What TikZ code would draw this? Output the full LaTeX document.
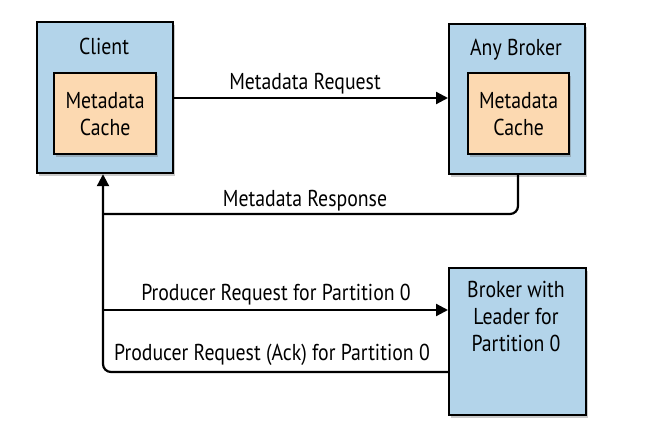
\documentclass[tikz,border=0pt]{standalone}
\usepackage{fontspec}
\setmainfont[FakeStretch=0.86]{PT Sans}
\usetikzlibrary{shadows,arrows.meta}
\definecolor{boxblue}{HTML}{B3D4EA}
\definecolor{cacheorange}{HTML}{FCD9B1}
\begin{document}
\begin{tikzpicture}[x=1pt,y=-1pt,
  font=\fontsize{23}{27}\selectfont,
  outerbox/.style={draw=black,line width=2.2pt,fill=boxblue,
    drop shadow={shadow xshift=2pt,shadow yshift=-3pt,opacity=0.35,fill=black!60}},
  cachebox/.style={draw=black,line width=2.2pt,fill=cacheorange,
    drop shadow={shadow xshift=2pt,shadow yshift=-3pt,opacity=0.35,fill=black!60}},
  conn/.style={line width=2.2pt,rounded corners=8pt},
  tip/.style={-{Triangle[length=12pt,width=12pt]}},
  lbl/.style={inner sep=0pt,anchor=base}]
\useasboundingbox (0,0) rectangle (655,444);
% Client
\node[outerbox,minimum width=136pt,minimum height=151pt,anchor=north west] (client) at (36,21) {};
\node[lbl] (clientlbl) at (104,55) {Client};
\node[cachebox,minimum width=102pt,minimum height=81pt,anchor=north west,align=center] (ccache) at (53,72) {Metadata\\Cache};
% Any Broker
\node[outerbox,minimum width=136pt,minimum height=150pt,anchor=north west] (any) at (448,23) {};
\node[lbl] (anylbl) at (516,56) {Any Broker};
\node[cachebox,minimum width=101pt,minimum height=81pt,anchor=north west,align=center] (bcache) at (467,72) {Metadata\\Cache};
% Leader broker
\node[outerbox,minimum width=137pt,minimum height=147pt,anchor=north west] (leader) at (448,267) {};
\node[lbl,align=center,anchor=north] (leaderlbl) at (516,281) {Broker with\\Leader for\\Partition 0};
% corner coordinates
\coordinate (c1) at (518,214);
\coordinate (c2) at (103,214);
\coordinate (c3) at (103,372);
\coordinate (p1) at (103,310);
% connectors
\draw[conn,tip] (client.east |- 0,98) -- (any.west |- 0,98);
\node[lbl] (mreq) at (305,89) {Metadata Request};
\draw[conn] (any.south -| c1) -- (c1) -- (c2);
\node[lbl] (mresp) at (305,206) {Metadata Response};
\draw[conn,tip] (leader.west |- 0,372) -- (c3) -- (client.south -| c3);
\draw[conn,tip] (p1) -- (leader.west |- p1);
\node[lbl] (preq) at (276,300) {Producer Request for Partition 0};
\node[lbl] (pack) at (272,360) {Producer Request (Ack) for Partition 0};
\end{tikzpicture}
\end{document}
